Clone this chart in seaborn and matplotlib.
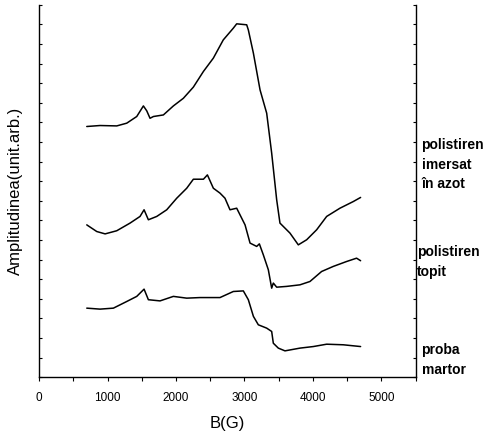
import matplotlib
matplotlib.use("Agg")
import matplotlib.pyplot as plt
from matplotlib.ticker import MultipleLocator, NullFormatter
import pandas as pd
import seaborn as sns

# field values (G) and amplitudes (arb. units)
B_AZOT = [696, 890, 1134, 1280, 1426, 1523, 1572, 1620, 1670, 1815, 1961, 2107,
          2253, 2400, 2545, 2690, 2837, 2886, 3032, 3056, 3130, 3227, 3324, 3397,
          3470, 3518, 3664, 3786, 3908, 4054, 4200, 4394, 4589, 4696]
A_AZOT = [12.79, 12.84, 12.82, 12.96, 13.30, 13.84, 13.59, 13.21, 13.30, 13.38,
          13.84, 14.23, 14.80, 15.60, 16.28, 17.21, 17.81, 18.03, 17.98, 17.72,
          16.53, 14.66, 13.47, 11.43, 9.05, 7.86, 7.35, 6.75, 7.01, 7.52, 8.20,
          8.62, 8.96, 9.17]

B_TOPIT = [696, 842, 964, 1134, 1328, 1474, 1533, 1596, 1718, 1864, 2010, 2156,
           2253, 2400, 2458, 2545, 2642, 2715, 2788, 2886, 3008, 3081, 3178, 3217,
           3275, 3348, 3397, 3421, 3470, 3616, 3810, 3956, 4126, 4297, 4491, 4637,
           4696]
A_TOPIT = [7.77, 7.43, 7.31, 7.47, 7.86, 8.20, 8.54, 8.03, 8.20, 8.54, 9.13, 9.64,
           10.10, 10.10, 10.32, 9.64, 9.39, 9.13, 8.54, 8.62, 7.77, 6.84, 6.67,
           6.80, 6.24, 5.48, 4.54, 4.80, 4.59, 4.63, 4.71, 4.88, 5.39, 5.65, 5.90,
           6.07, 5.94]

B_MARTOR = [696, 890, 1085, 1280, 1426, 1533, 1596, 1766, 1961, 2156, 2350, 2642,
            2837, 2983, 3056, 3130, 3202, 3324, 3397, 3421, 3494, 3591, 3810, 4005,
            4200, 4443, 4696]
A_MARTOR = [3.52, 3.47, 3.52, 3.86, 4.12, 4.49, 3.95, 3.89, 4.12, 4.03, 4.06, 4.06,
            4.37, 4.40, 3.95, 3.10, 2.67, 2.50, 2.33, 1.73, 1.48, 1.34, 1.48, 1.56,
            1.68, 1.65, 1.56]

LABELS = ["polistiren\nimersat\nîn azot", "polistiren\ntopit", "proba\nmartor"]

df = pd.concat([
    pd.DataFrame({"B": B_AZOT, "A": A_AZOT, "proba": "azot"}),
    pd.DataFrame({"B": B_TOPIT, "A": A_TOPIT, "proba": "topit"}),
    pd.DataFrame({"B": B_MARTOR, "A": A_MARTOR, "proba": "martor"}),
])

sns.set_style("ticks")
plt.rcParams["font.family"] = ["Liberation Sans", "DejaVu Sans"]
plt.rcParams["text.color"] = "black"
plt.rcParams["axes.labelcolor"] = "black"
plt.rcParams["xtick.color"] = "black"
plt.rcParams["ytick.color"] = "black"

fig = plt.figure(figsize=(4.89, 4.38), dpi=100)
ax = fig.add_axes([0.080, 0.139, 0.770, 0.850])

sns.lineplot(data=df, x="B", y="A", hue="proba", units="proba", estimator=None,
             palette={"azot": "black", "topit": "black", "martor": "black"},
             linewidth=1.1, legend=False, sort=False, ax=ax)

ax.set_xlim(0, 5500)
ax.set_ylim(0, 19)
ax.xaxis.set_major_locator(MultipleLocator(1000))
ax.xaxis.set_minor_locator(MultipleLocator(500))
ax.yaxis.set_major_locator(MultipleLocator(1))
ax.yaxis.set_major_formatter(NullFormatter())

ax.spines["top"].set_visible(False)
for side in ["left", "right", "bottom"]:
    ax.spines[side].set_linewidth(1.0)
    ax.spines[side].set_color("black")

ax.tick_params(axis="x", which="major", direction="out", length=3, width=0.8,
               labelsize=8.5, pad=8, colors="black")
ax.tick_params(axis="x", which="minor", direction="out", length=3, width=0.8)
ax.tick_params(axis="y", which="major", direction="in", length=2.5, width=0.8,
               left=True, right=True)

ax.set_xlabel("B(G)", fontsize=12, labelpad=8, color="black")
ax.set_ylabel("Amplitudinea(unit.arb.)", fontsize=12, labelpad=8, color="black")

fig.text(0.862, 1 - 165 / 438, LABELS[0], fontsize=10, fontweight="bold",
         va="center", ha="left", linespacing=1.5, color="black")
fig.text(0.853, 1 - 262 / 438, LABELS[1], fontsize=10, fontweight="bold",
         va="center", ha="left", linespacing=1.5, color="black")
fig.text(0.862, 1 - 360 / 438, LABELS[2], fontsize=10, fontweight="bold",
         va="center", ha="left", linespacing=1.5, color="black")

fig.savefig("out.png", dpi=100)
